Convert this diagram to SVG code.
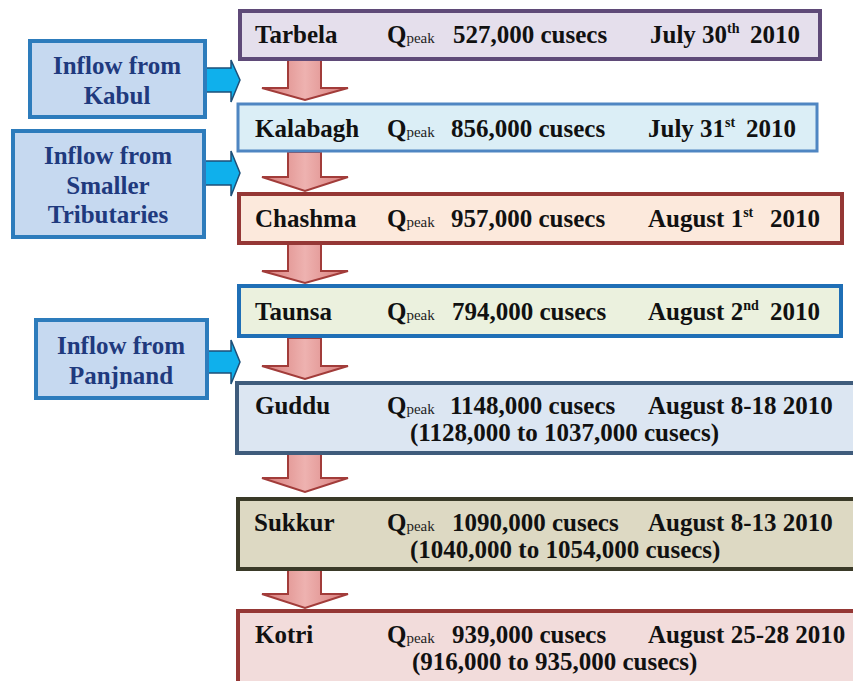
<svg xmlns="http://www.w3.org/2000/svg" width="853" height="681" viewBox="0 0 853 681">
<defs>
<linearGradient id="rg" x1="0" y1="0" x2="1" y2="0">
<stop offset="0" stop-color="#d67a78"/>
<stop offset="0.5" stop-color="#eeb2b0"/>
<stop offset="1" stop-color="#d67a78"/>
</linearGradient>
<style>
.t{font-family:"Liberation Serif","Times New Roman",serif;font-weight:bold;font-size:25px;fill:#111}
.pk{font-family:"Liberation Serif","Times New Roman",serif;font-weight:normal;font-size:15px;fill:#222}
.sup{font-size:14px}
.lt{font-family:"Liberation Serif","Times New Roman",serif;font-weight:bold;font-size:25px;fill:#1f3a7e;text-anchor:middle}
.lb{fill:#c6d9f0;stroke:#2d7cbc;stroke-width:4}
.ra{fill:url(#rg);stroke:#a23c3a;stroke-width:2;stroke-linejoin:miter}
.ba{fill:#0fb0ec;stroke:#1e4f78;stroke-width:1.5}
</style>
</defs>
<rect width="853" height="681" fill="#ffffff"/>

<g id="connectors">
<polygon class="ra" points="288,60 321,60 321,88 348,88 305,100 262,88 288,88"/>
<polygon class="ra" points="288,152 321,152 321,177 348,177 305,191 262,177 288,177"/>
<polygon class="ra" points="288,244 321,244 321,271 348,271 305,283 262,271 288,271"/>
<polygon class="ra" points="288,338 321,338 321,366 348,366 305,379 262,366 288,366"/>
<polygon class="ra" points="288,454 321,454 321,478 348,478 305,492 262,478 288,478"/>
<polygon class="ra" points="288,570 321,570 321,594 348,594 305,608 262,594 288,594"/>
<polygon class="ba" points="206,68 231,68 231,60 240,80 231,102 231,92 206,92"/>
<polygon class="ba" points="205,161 231,161 231,151 240,173 231,196 231,185 205,185"/>
<polygon class="ba" points="208,351 231,351 231,340 240,362 231,384 231,373 208,373"/>
</g>

<g id="kabul">
<rect class="lb" x="30" y="41" width="175" height="76"/>
<text class="lt" x="117" y="74">Inflow from</text>
<text class="lt" x="117" y="104">Kabul</text>
</g>
<g id="tributaries">
<rect class="lb" x="13" y="131" width="191" height="106"/>
<text class="lt" x="108" y="164">Inflow from</text>
<text class="lt" x="108" y="194">Smaller</text>
<text class="lt" x="108" y="223">Tributaries</text>
</g>
<g id="panjnand">
<rect class="lb" x="36" y="320" width="171" height="78"/>
<text class="lt" x="121" y="354">Inflow from</text>
<text class="lt" x="121" y="384">Panjnand</text>
</g>

<g id="tarbela">
<rect x="240" y="11" width="580" height="48" fill="#e5dfec" stroke="#5f4a78" stroke-width="4"/>
<text class="t" x="255" y="43">Tarbela</text>
<text class="t" x="387" y="43">Q<tspan class="pk">peak</tspan></text>
<text class="t" x="453" y="43">527,000 cusecs</text>
<text class="t" x="650" y="43">July 30<tspan class="sup" dy="-10">th</tspan><tspan x="750" dy="10">2010</tspan></text>
</g>
<g id="kalabagh">
<rect x="238" y="104" width="579" height="47" fill="#dbeef6" stroke="#4f86c2" stroke-width="3"/>
<text class="t" x="255" y="137">Kalabagh</text>
<text class="t" x="387" y="137">Q<tspan class="pk">peak</tspan></text>
<text class="t" x="451" y="137">856,000 cusecs</text>
<text class="t" x="648" y="137">July 31<tspan class="sup" dy="-10">st</tspan><tspan x="746" dy="10">2010</tspan></text>
</g>
<g id="chashma">
<rect x="239" y="194" width="603" height="49" fill="#fce9dc" stroke="#953735" stroke-width="4"/>
<text class="t" x="255" y="227">Chashma</text>
<text class="t" x="387" y="227">Q<tspan class="pk">peak</tspan></text>
<text class="t" x="451" y="227">957,000 cusecs</text>
<text class="t" x="648" y="227">August 1<tspan class="sup" dy="-10">st</tspan><tspan x="770" dy="10">2010</tspan></text>
</g>
<g id="taunsa">
<rect x="239" y="286" width="602" height="50" fill="#ebf1de" stroke="#1f6fb6" stroke-width="4"/>
<text class="t" x="255" y="320">Taunsa</text>
<text class="t" x="387" y="320">Q<tspan class="pk">peak</tspan></text>
<text class="t" x="452" y="320">794,000 cusecs</text>
<text class="t" x="648" y="320">August 2<tspan class="sup" dy="-10">nd</tspan><tspan x="770" dy="10">2010</tspan></text>
</g>
<g id="guddu">
<rect x="237" y="383" width="625" height="70" fill="#dce6f2" stroke="#3f5c7c" stroke-width="4"/>
<text class="t" x="255" y="414">Guddu</text>
<text class="t" x="387" y="414">Q<tspan class="pk">peak</tspan></text>
<text class="t" x="450" y="414">1148,000 cusecs</text>
<text class="t" x="648" y="414">August 8-18 2010</text>
<text class="t" x="410" y="441">(1128,000 to 1037,000 cusecs)</text>
</g>
<g id="sukkur">
<rect x="238" y="499" width="624" height="70" fill="#ddd9c3" stroke="#3a3a28" stroke-width="4"/>
<text class="t" x="254" y="531">Sukkur</text>
<text class="t" x="387" y="531">Q<tspan class="pk">peak</tspan></text>
<text class="t" x="452" y="531">1090,000 cusecs</text>
<text class="t" x="648" y="531">August 8-13 2010</text>
<text class="t" x="410" y="558">(1040,000 to 1054,000 cusecs)</text>
</g>
<g id="kotri">
<rect x="238" y="611" width="624" height="80" fill="#f2dcdb" stroke="#953735" stroke-width="4"/>
<text class="t" x="255" y="643">Kotri</text>
<text class="t" x="387" y="643">Q<tspan class="pk">peak</tspan></text>
<text class="t" x="452" y="643">939,000 cusecs</text>
<text class="t" x="648" y="643">August 25-28 2010</text>
<text class="t" x="412" y="670">(916,000 to 935,000 cusecs)</text>
</g>
</svg>
